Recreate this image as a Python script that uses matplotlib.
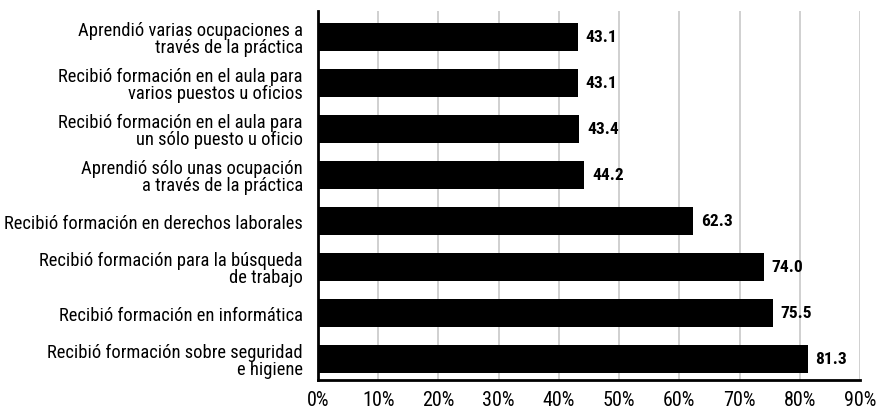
import matplotlib
matplotlib.use("Agg")
import matplotlib.pyplot as plt
from matplotlib.ticker import FuncFormatter

plt.rcParams['font.family'] = ['Roboto Condensed', 'DejaVu Sans']

categorias = [
    "Aprendió varias ocupaciones a\ntravés de la práctica",
    "Recibió formación en el aula para\nvarios puestos u oficios",
    "Recibió formación en el aula para\nun sólo puesto u oficio",
    "Aprendió sólo unas ocupación\na través de la práctica",
    "Recibió formación en derechos laborales",
    "Recibió formación para la búsqueda\nde trabajo",
    "Recibió formación en informática",
    "Recibió formación sobre seguridad\ne higiene",
]
porcentajes = [43.1, 43.1, 43.4, 44.2, 62.3, 74.0, 75.5, 81.3]
ticks_x = [0, 10, 20, 30, 40, 50, 60, 70, 80, 90]

fig = plt.figure(figsize=(8.8, 4.1), dpi=100)
ax = fig.add_axes([0.3614, 0.0707, 0.6159, 0.90])

pos = list(range(len(categorias)))
ax.barh(pos, porcentajes, height=0.61, color='black', zorder=3)

# etiquetas de valor a la derecha de cada barra
for y, v in zip(pos, porcentajes):
    ax.text(v + 1.3, y, f"{v:.1f}", va='center', ha='left',
            fontsize=12.5, fontweight='bold', zorder=4)

ax.set_xlim(0, 90)
ax.set_ylim(7.46, -0.565)
ax.set_xticks(ticks_x)
ax.xaxis.set_major_formatter(FuncFormatter(lambda v, p: f"{v:.0f}%"))
ax.set_yticks(pos)
ax.set_yticklabels(categorias, fontsize=13.3, linespacing=0.95,
                   multialignment='right')

ax.grid(axis='x', color='#c8c8c8', linewidth=1.2, zorder=0)
ax.tick_params(axis='y', length=0, pad=11)
ax.tick_params(axis='x', length=0, pad=7, labelsize=14.5)

for s in ['top', 'right']:
    ax.spines[s].set_visible(False)
ax.spines['left'].set_linewidth(2)
ax.spines['bottom'].set_linewidth(2)
ax.spines['left'].set_zorder(5)
ax.spines['bottom'].set_zorder(5)

fig.savefig("out.png", dpi=100)
